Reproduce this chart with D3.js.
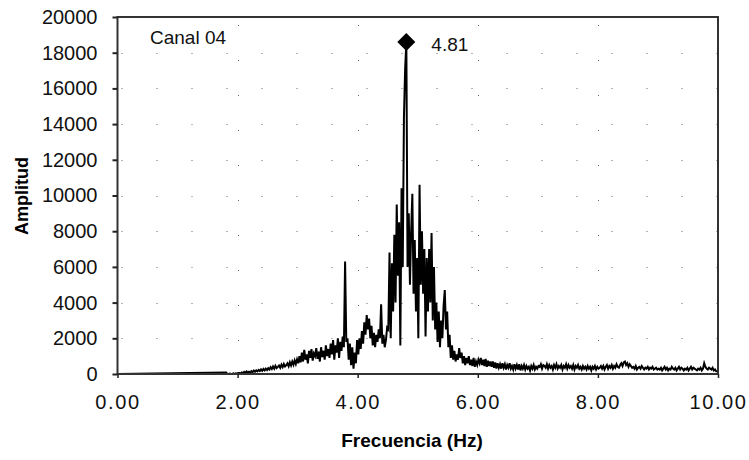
<!DOCTYPE html>
<html><head><meta charset="utf-8">
<script src="https://cdn.jsdelivr.net/npm/d3@7"></script>
<style>body{margin:0;background:#fff}svg{display:block}text{font-family:"Liberation Sans",Arial,sans-serif}</style>
</head><body><svg id="c" width="749" height="460"></svg>
<script>
// Spectrum amplitude, sampled every 0.02 Hz; each segment has its own start frequency
const df = 0.02;
const segA = {start: 1.81, amp: [80,0,0,20,0,0,30,0,40,20,60]};
const segB = {start: 2.03, amp: [60,40,90,50,120,70,150,90,130,80,160,110,190,120,200,150,230,170,260,180,280,200,300,220,330]};
const segC = {start: 2.53, amp: [250,380,280,420,300,460,330,400,480,350,520,390,560,420,500,600,430,650,480,700,520,760,560,820,600]};
const segD = {start: 3.03, amp: [1000,650,1200,700,1350,800,1100,600,1300,900,1400,750,1150,1000,1450,850,1250,700,1500,950,1300,800,1600,1000,1400]};
const segE = {start: 3.53, amp: [900,1700,1100,1900,800,1600,1200,2000,900,1800,1300,2100,1500,6300]};
const segF = {start: 3.81, amp: [1800,2000,800,1700,500,1500,300,1200,600,1900,1100]};
const segG = {start: 4.03, amp: [2000,1400,2400,1700,2900,2200,3300,2500,3100,2000,2700,1600,2300,1500,2200]};
const segH = {start: 4.33, amp: [1800,2500,2000,3900,1700,2200,1500,1900,2600]};
const segI = {start: 4.51, amp: [2500,6800,2000,6200,3500,7800,4000,9500,5500,8500,1600,10400,6000,14400,17100,18600]};
const segJ = {start: 4.83, amp: [6000,9000,5000,8000,10100,4500,7500,3500,6500,2000,10600,5000,8000,4500,7000,2100,6500,3500,7000,4000,7900,3000,6000,2500,4000,1800,3500,1500,3000,2000,3800,4700,2500,3500,1500,2200,900,1600,800,1300,700,1100,800,1450,900,1200,600,1000,500,900,600,1000,500,800,450,900,400,700,500,800,600,900,500,800,450,850,400,750,450,700]};
const segK = {start: 6.23, amp: [400,700,350,650,300,600,350,550,300,600,350,550,250,500,350,600,300,450,250,550,300,500,250,550,200,450,300,500,250,450,300,400,200,450,300,500,250,400,300,450]};
const segL = {start: 7.03, amp: [400,550,300,500,450,350,550,300,500,350,450,250,500,350,550,300,450,350,500,250,450,350,550,300,500,350,450,300,500,250,450,350,500,300,400,250,450,300,400,250,450,300,400,200,400,300,450,250,400,300]};
const segM = {start: 8.03, amp: [350,450,300,450,250,400,500,300,450,350,500,300,450,350,550,400,350,500,600,450,650,700,500,600,400,550,450,350,400,300,450,250,350,400,300,450,350,250,350,300,400,250,350,300,400,250,300,350,250,300]};
const segN = {start: 9.03, amp: [250,350,200,300,400,250,350,200,300,250,400,300,250,350,200,300,400,250,350,300,200,300,250,350,200,300,400,250,350,300,250,200,300,250,350,200,300,600,400,300,250,350,300,250,350,200,250,150,150,100]};
const segments = [segA, segB, segC, segD, segE, segF, segG, segH, segI, segJ, segK, segL, segM, segN];

const peakFreq = 4.81, peakAmp = 18600, peakLabel = "4.81";
const seriesName = "Canal 04";
const yTicks = [0,2000,4000,6000,8000,10000,12000,14000,16000,18000,20000];
const xTicks = [0,2,4,6,8,10];
const xTitle = "Frecuencia (Hz)", yTitle = "Amplitud";

const pts = [{f: 0, a: 0}];
segments.forEach(s => s.amp.forEach((a, i) => pts.push({f: +(s.start + i * df).toFixed(2), a})));
pts.sort((p, q) => p.f - q.f);
const data = pts.filter(p => p.f <= 10);

const svg = d3.select("#c");
const L = 117.5, R = 718, T = 17, B = 374;
const x = d3.scaleLinear().domain([0, 10]).range([L, R]);
const y = d3.scaleLinear().domain([0, 20000]).range([B, T]);

// sparse dotted gridlines
const grid = svg.append("g").attr("stroke", "#666").attr("stroke-width", 1).attr("stroke-dasharray", "1,34");
grid.selectAll("line.h").data(yTicks.slice(1, -1)).join("line")
  .attr("x1", L + 4).attr("x2", R).attr("y1", d => Math.round(y(d)) + 0.5).attr("y2", d => Math.round(y(d)) + 0.5);
grid.selectAll("line.v").data(xTicks.slice(1, -1)).join("line")
  .attr("x1", d => Math.round(x(d)) + 0.5).attr("x2", d => Math.round(x(d)) + 0.5).attr("y1", T + 8).attr("y2", B);

// series line
svg.append("path").datum(data)
  .attr("fill", "none").attr("stroke", "#000").attr("stroke-width", 2).attr("stroke-linejoin", "miter")
  .attr("d", d3.line().x(d => x(d.f)).y(d => y(d.a)));

// frame
svg.append("rect").attr("x", L).attr("y", T).attr("width", R - L).attr("height", B - T)
  .attr("fill", "none").attr("stroke", "#333").attr("stroke-width", 2);

// axes
const yAxis = d3.axisLeft(y).tickValues(yTicks).tickSize(5).tickPadding(15).tickFormat(d3.format("d"));
const gy = svg.append("g").attr("transform", `translate(${L},0)`).call(yAxis);
gy.select(".domain").remove();
gy.selectAll("line").attr("stroke", "#222").attr("stroke-width", 2);
gy.selectAll("text").attr("font-size", 20).attr("fill", "#111");

const xAxis = d3.axisBottom(x).tickValues(xTicks).tickSize(4).tickPadding(17).tickFormat(d3.format(".2f"));
const gx = svg.append("g").attr("transform", `translate(0,${B})`).call(xAxis);
gx.select(".domain").remove();
gx.selectAll("line").attr("stroke", "#222").attr("stroke-width", 1.5);
gx.selectAll("text").attr("font-size", 20).attr("letter-spacing", 1.6).attr("fill", "#111");

// titles
svg.append("text").attr("x", 412).attr("y", 447).attr("text-anchor", "middle")
  .attr("font-size", 19).attr("font-weight", "bold").text(xTitle);
svg.append("text").attr("transform", "translate(28,196) rotate(-90)").attr("text-anchor", "middle")
  .attr("font-size", 18).attr("font-weight", "bold").text(yTitle);

// series label
svg.append("text").attr("x", 150).attr("y", 44).attr("font-size", 19).attr("fill", "#111").text(seriesName);

// peak marker (diamond)
const px = x(peakFreq), py = y(peakAmp), r = 9;
svg.append("path").attr("d", `M${px},${py - r}L${px + r},${py}L${px},${py + r}L${px - r},${py}Z`).attr("fill", "#000");
svg.append("text").attr("x", px + 25).attr("y", 51).attr("font-size", 19).attr("fill", "#111").text(peakLabel);
</script></body></html>
